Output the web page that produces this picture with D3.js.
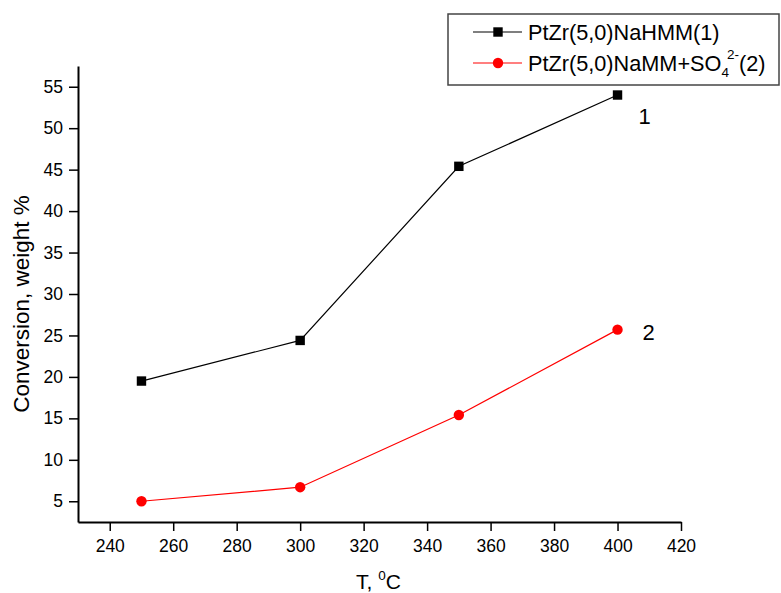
<!DOCTYPE html>
<html>
<head>
    <script src="https://d3js.org/d3.v7.min.js"></script>
    <style>
        body { margin: 0; background: #fff; }
        text { font-family: "Liberation Sans", Arial, sans-serif; fill: #000; }
    </style>
</head>
<body>
    <div id="chart"></div>
    <script>
        const temps = [250, 300, 350, 400];
        const series1 = [19.5, 24.4, 45.4, 54.0];
        const series2 = [5.0, 6.7, 15.4, 25.7];
        const xTicks = [240, 260, 280, 300, 320, 340, 360, 380, 400, 420];
        const yTicks = [5, 10, 15, 20, 25, 30, 35, 40, 45, 50, 55];

        const width = 781, height = 593;
        const margin = {top: 66, right: 100, bottom: 71, left: 78};

        const x = d3.scaleLinear().domain([230, 420]).range([margin.left, width - margin.right]);
        const y = d3.scaleLinear().domain([2.5, 57.5]).range([height - margin.bottom, margin.top]);

        const svg = d3.select("#chart").append("svg")
            .attr("width", width)
            .attr("height", height);

        // minor ticks
        const xMinor = d3.range(230, 421, 10).filter(v => !xTicks.includes(v));
        const yMinor = d3.range(2.5, 57.6, 5);

        const xAxis = svg.append("g")
            .attr("transform", "translate(0," + y.range()[0] + ")");
        xAxis.call(d3.axisBottom(x).tickValues(xMinor).tickSize(5).tickFormat(""));
        xAxis.call(d3.axisBottom(x).tickValues(xTicks).tickSize(9).tickSizeOuter(0).tickPadding(9));

        const yAxis = svg.append("g")
            .attr("transform", "translate(" + margin.left + ",0)");
        yAxis.call(d3.axisLeft(y).tickValues(yMinor).tickSize(5).tickFormat(""));
        yAxis.call(d3.axisLeft(y).tickValues(yTicks).tickSize(9).tickSizeOuter(0).tickPadding(6));

        svg.selectAll(".domain").attr("stroke", "#000").attr("stroke-width", 2);
        svg.selectAll(".tick line").attr("stroke", "#000").attr("stroke-width", 1.5);
        svg.selectAll(".tick text").style("font-size", "17.5px").style("font-family", "Liberation Sans, Arial, sans-serif");

        // axis titles
        svg.append("text")
            .attr("transform", "translate(29," + 304 + ") rotate(-90)")
            .attr("text-anchor", "middle")
            .style("font-size", "22.5px")
            .text("Conversion, weight %");

        const xt = svg.append("text")
            .attr("x", 356)
            .attr("y", 589)
            .style("font-size", "21px");
        xt.append("tspan").text("T, ");
        xt.append("tspan").attr("dy", -9).style("font-size", "13.5px").text("0");
        xt.append("tspan").attr("dy", 9).text("C");

        // series
        const line = d3.line().x(d => x(d[0])).y(d => y(d[1]));
        const pts1 = temps.map((t, i) => [t, series1[i]]);
        const pts2 = temps.map((t, i) => [t, series2[i]]);

        svg.append("path").datum(pts1).attr("d", line)
            .attr("fill", "none").attr("stroke", "#000").attr("stroke-width", 1.2);
        svg.append("path").datum(pts2).attr("d", line)
            .attr("fill", "none").attr("stroke", "#ff0000").attr("stroke-width", 1.2);

        svg.selectAll(".sq").data(pts1).enter().append("rect")
            .attr("x", d => x(d[0]) - 4.7)
            .attr("y", d => y(d[1]) - 4.7)
            .attr("width", 9.4).attr("height", 9.4)
            .attr("fill", "#000");

        svg.selectAll(".dot").data(pts2).enter().append("circle")
            .attr("cx", d => x(d[0]))
            .attr("cy", d => y(d[1]))
            .attr("r", 5.2)
            .attr("fill", "#ff0000");

        // curve labels
        svg.append("text").attr("x", x(400) + 21).attr("y", 124)
            .style("font-size", "22px").text("1");
        svg.append("text").attr("x", x(400) + 25).attr("y", 340)
            .style("font-size", "22px").text("2");

        // legend
        const lg = svg.append("g");
        lg.append("rect")
            .attr("x", 448).attr("y", 14)
            .attr("width", 331).attr("height", 71)
            .attr("fill", "#fff")
            .attr("stroke", "#444").attr("stroke-width", 1.5);

        lg.append("line").attr("x1", 473).attr("x2", 522).attr("y1", 32).attr("y2", 32)
            .attr("stroke", "#000").attr("stroke-width", 1.2);
        lg.append("rect").attr("x", 498 - 4.7).attr("y", 32 - 4.7).attr("width", 9.4).attr("height", 9.4)
            .attr("fill", "#000");
        lg.append("text").attr("x", 528).attr("y", 39.5)
            .style("font-size", "21.7px").text("PtZr(5,0)NaHMM(1)");

        lg.append("line").attr("x1", 473).attr("x2", 522).attr("y1", 63).attr("y2", 63)
            .attr("stroke", "#ff0000").attr("stroke-width", 1.2);
        lg.append("circle").attr("cx", 498).attr("cy", 63).attr("r", 5.2).attr("fill", "#ff0000");
        const t2 = lg.append("text").attr("x", 528).attr("y", 70.5)
            .style("font-size", "21.7px");
        t2.append("tspan").text("PtZr(5,0)NaMM+SO");
        t2.append("tspan").attr("dy", 6).style("font-size", "13.5px").text("4");
        t2.append("tspan").attr("dy", -18).attr("dx", -2).style("font-size", "13.5px").text("2-");
        t2.append("tspan").attr("dy", 12).text("(2)");
    </script>
</body>
</html>
